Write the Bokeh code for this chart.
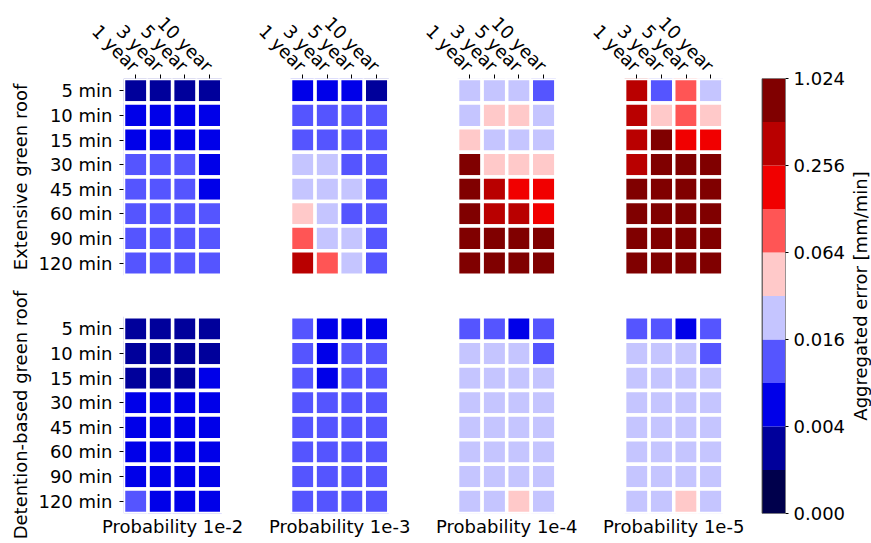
import numpy as np
from bokeh.plotting import figure
from bokeh.layouts import row
from bokeh.models import Range1d, LinearAxis, FixedTicker, ColumnDataSource
from bokeh.embed import file_html
from bokeh.resources import INLINE

# ---------------- data ----------------
durations = ["5 min", "10 min", "15 min", "30 min", "45 min", "60 min", "90 min", "120 min"]
return_periods = ["1 year", "3 year", "5 year", "10 year"]
probabilities = ["Probability 1e-2", "Probability 1e-3", "Probability 1e-4", "Probability 1e-5"]
roof_types = ["Extensive green roof", "Detention-based green roof"]
cbar_title = "Aggregated error [mm/min]"

# colour-bar bin edges [mm/min] and its labels
bounds = [0.0, 0.002, 0.004, 0.008, 0.016, 0.032, 0.064, 0.128, 0.256, 0.512, 1.024]
cbar_tick_bins = [0, 2, 4, 6, 8, 10]
cbar_tick_labels = ["0.000", "0.004", "0.016", "0.064", "0.256", "1.024"]
palette = ["#00004c", "#00009b", "#0000e9", "#5555ff", "#c5c5ff",
           "#ffc9c9", "#ff5555", "#f10000", "#b90000", "#800000"]

# aggregated error [mm/min]; rows = durations, columns = return periods
ext_1e2 = [[0.003, 0.003, 0.003, 0.003],
           [0.006, 0.006, 0.006, 0.006],
           [0.006, 0.006, 0.006, 0.006],
           [0.012, 0.012, 0.012, 0.006],
           [0.012, 0.012, 0.012, 0.006],
           [0.012, 0.012, 0.012, 0.012],
           [0.012, 0.012, 0.012, 0.012],
           [0.012, 0.012, 0.012, 0.012]]
ext_1e3 = [[0.006, 0.006, 0.006, 0.003],
           [0.012, 0.012, 0.012, 0.012],
           [0.012, 0.012, 0.012, 0.012],
           [0.024, 0.024, 0.012, 0.012],
           [0.024, 0.024, 0.024, 0.012],
           [0.045, 0.024, 0.012, 0.012],
           [0.090, 0.024, 0.024, 0.012],
           [0.350, 0.090, 0.024, 0.012]]
ext_1e4 = [[0.024, 0.024, 0.024, 0.012],
           [0.024, 0.045, 0.045, 0.024],
           [0.045, 0.024, 0.024, 0.024],
           [0.750, 0.045, 0.045, 0.045],
           [0.750, 0.350, 0.180, 0.180],
           [0.750, 0.350, 0.350, 0.180],
           [0.750, 0.750, 0.750, 0.750],
           [0.750, 0.750, 0.750, 0.750]]
ext_1e5 = [[0.350, 0.012, 0.090, 0.024],
           [0.350, 0.045, 0.090, 0.045],
           [0.350, 0.750, 0.180, 0.180],
           [0.350, 0.750, 0.750, 0.750],
           [0.750, 0.750, 0.750, 0.750],
           [0.750, 0.750, 0.750, 0.750],
           [0.750, 0.750, 0.750, 0.750],
           [0.750, 0.750, 0.750, 0.750]]
det_1e2 = [[0.003, 0.003, 0.003, 0.003],
           [0.003, 0.003, 0.003, 0.003],
           [0.003, 0.003, 0.003, 0.006],
           [0.006, 0.006, 0.006, 0.006],
           [0.006, 0.006, 0.006, 0.006],
           [0.006, 0.006, 0.006, 0.006],
           [0.006, 0.006, 0.006, 0.006],
           [0.012, 0.006, 0.006, 0.006]]
det_1e3 = [[0.012, 0.006, 0.006, 0.006],
           [0.012, 0.006, 0.012, 0.012],
           [0.012, 0.006, 0.012, 0.012],
           [0.012, 0.012, 0.012, 0.012],
           [0.012, 0.012, 0.012, 0.012],
           [0.012, 0.012, 0.012, 0.012],
           [0.012, 0.012, 0.012, 0.012],
           [0.012, 0.012, 0.012, 0.012]]
det_1e4 = [[0.012, 0.012, 0.006, 0.012],
           [0.024, 0.024, 0.024, 0.012],
           [0.024, 0.024, 0.024, 0.024],
           [0.024, 0.024, 0.024, 0.024],
           [0.024, 0.024, 0.024, 0.024],
           [0.024, 0.024, 0.024, 0.024],
           [0.024, 0.024, 0.024, 0.024],
           [0.024, 0.024, 0.045, 0.024]]
det_1e5 = [[0.012, 0.012, 0.006, 0.012],
           [0.024, 0.024, 0.024, 0.012],
           [0.024, 0.024, 0.024, 0.024],
           [0.024, 0.024, 0.024, 0.024],
           [0.024, 0.024, 0.024, 0.024],
           [0.024, 0.024, 0.024, 0.024],
           [0.024, 0.024, 0.024, 0.024],
           [0.024, 0.024, 0.045, 0.024]]

panels = [[ext_1e2, ext_1e3, ext_1e4, ext_1e5],
          [det_1e2, det_1e3, det_1e4, det_1e5]]

# ---------------- layout (in cell units) ----------------
PANEL_STEP = 6.8          # horizontal distance between panel origins
TOP_Y = 17.68             # top of upper panel
LOW_TOP = 8.0             # top of lower panel
CB_LEFT, CB_RIGHT = 26.0, 26.95
FONT = "DejaVu Sans"
FS = "18px"

xs, ys, vals, cols = [], [], [], []
for ri, row_panels in enumerate(panels):
    top = TOP_Y if ri == 0 else LOW_TOP
    for pi, data in enumerate(row_panels):
        arr = np.asarray(data, dtype=float)
        for r in range(arr.shape[0]):
            for c in range(arr.shape[1]):
                v = arr[r, c]
                lvl = int(np.clip(np.searchsorted(bounds, v, side="right") - 1, 0, len(palette) - 1))
                xs.append(pi * PANEL_STEP + c + 0.5)
                ys.append(top - r - 0.5)
                vals.append(v)
                cols.append(palette[lvl])

src = ColumnDataSource(dict(x=xs, y=ys, v=vals, color=cols))

p = figure(width=848, height=542,
           x_range=Range1d(0, CB_RIGHT), y_range=Range1d(0, TOP_Y),
           x_axis_location=None, y_axis_location=None,
           toolbar_location=None, output_backend="svg",
           min_border_left=123, min_border_right=62,
           min_border_top=78, min_border_bottom=29)
p.outline_line_color = None
p.xgrid.visible = False
p.ygrid.visible = False
p.background_fill_color = "white"
p.extra_y_ranges = {"cbar": Range1d(0, len(palette))}

p.rect(x="x", y="y", width=1, height=1, source=src,
       fill_color="color", line_color="white", line_width=3.5)

# colour bar
cb_src = ColumnDataSource(dict(bottom=list(range(len(palette))),
                               top=list(range(1, len(palette) + 1)),
                               color=palette))
p.quad(left=CB_LEFT, right=CB_RIGHT, bottom="bottom", top="top", source=cb_src,
       fill_color="color", line_color=None, y_range_name="cbar")
p.quad(left=CB_LEFT, right=CB_RIGHT, bottom=0, top=len(palette),
       fill_color=None, line_color="#333333", line_width=1, y_range_name="cbar")


def style(ax):
    ax.axis_line_color = None
    ax.minor_tick_line_color = None
    ax.major_tick_in = 0
    ax.major_tick_line_color = "black"
    ax.major_label_text_font = FONT
    ax.major_label_text_font_size = FS
    ax.major_label_text_color = "black"
    ax.axis_label_text_font = FONT
    ax.axis_label_text_font_size = FS
    ax.axis_label_text_font_style = "normal"
    ax.axis_label_text_color = "black"


# left: durations
ytick = []
ylab = {}
for top in (TOP_Y, LOW_TOP):
    for r, d in enumerate(durations):
        y = top - r - 0.5
        ytick.append(y)
        ylab[y] = d
ax_left = LinearAxis(ticker=FixedTicker(ticks=ytick), major_label_overrides=ylab)
style(ax_left)
ax_left.major_tick_out = 4
ax_left.major_label_standoff = 7
p.add_layout(ax_left, "left")

# left outer: roof types
ry = [TOP_Y - 4, LOW_TOP - 4]
ax_roof = LinearAxis(ticker=FixedTicker(ticks=ry),
                     major_label_overrides={ry[0]: roof_types[0], ry[1]: roof_types[1]})
style(ax_roof)
ax_roof.major_tick_out = 0
ax_roof.major_tick_line_color = None
ax_roof.major_label_standoff = 4
ax_roof.major_label_orientation = "vertical"
p.add_layout(ax_roof, "left")

# above: return periods
xtick = []
xlab = {}
for pi in range(len(probabilities)):
    for c, rp in enumerate(return_periods):
        x = pi * PANEL_STEP + c + 0.5
        xtick.append(x)
        xlab[x] = rp
ax_top = LinearAxis(ticker=FixedTicker(ticks=xtick), major_label_overrides=xlab)
style(ax_top)
ax_top.major_tick_out = 4
ax_top.major_label_standoff = 6
ax_top.major_label_orientation = -np.pi / 4
p.add_layout(ax_top, "above")

# below: probabilities
px = [pi * PANEL_STEP + 2 for pi in range(len(probabilities))]
ax_bot = LinearAxis(ticker=FixedTicker(ticks=px),
                    major_label_overrides={x: l for x, l in zip(px, probabilities)})
style(ax_bot)
ax_bot.major_tick_out = 0
ax_bot.major_tick_line_color = None
ax_bot.major_label_standoff = 2
p.add_layout(ax_bot, "below")

# right: colour-bar axis
ax_cb = LinearAxis(y_range_name="cbar", ticker=FixedTicker(ticks=cbar_tick_bins),
                   major_label_overrides={b: l for b, l in zip(cbar_tick_bins, cbar_tick_labels)})
style(ax_cb)
ax_cb.major_tick_out = 3
ax_cb.major_label_standoff = 5
p.add_layout(ax_cb, "right")

# thin companion figure that only carries the colour-bar title (reads bottom to top)
p2 = figure(width=22, height=542, x_range=Range1d(0, 1), y_range=Range1d(0, len(palette)),
            x_axis_location=None, y_axis_location=None,
            toolbar_location=None, output_backend="svg",
            min_border_left=21, min_border_right=0,
            min_border_top=78, min_border_bottom=29)
p2.outline_line_color = None
p2.xgrid.visible = False
p2.ygrid.visible = False
ax_title = LinearAxis(ticker=FixedTicker(ticks=[]), axis_label=cbar_title)
style(ax_title)
ax_title.major_tick_out = 0
ax_title.major_tick_line_color = None
ax_title.axis_label_standoff = 0
p2.add_layout(ax_title, "left")

layout = row(p, p2, spacing=0)
open("out.html", "w").write(file_html(layout, INLINE))
